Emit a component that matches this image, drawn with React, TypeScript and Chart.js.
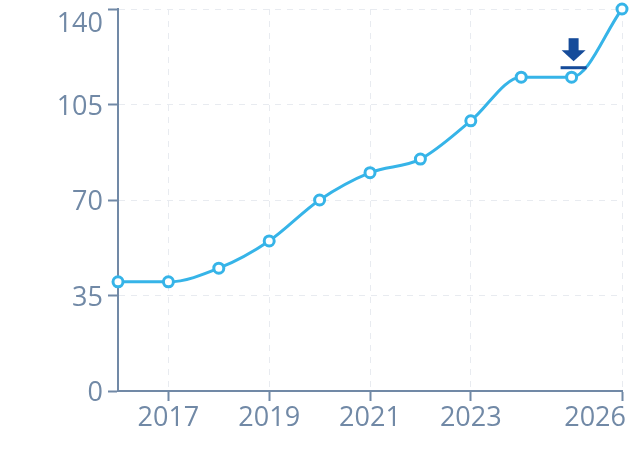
import React, { useEffect, useRef } from 'react';
import { Chart, registerables } from 'chart.js';

Chart.register(...registerables);

const years = [2016, 2017, 2018, 2019, 2020, 2021, 2022, 2023, 2024, 2025, 2026];
const values = [40, 40, 45, 55, 70, 80, 85, 99, 115, 115, 140];
const xTickYears = [2017, 2019, 2021, 2023, 2026];
const yTickValues = [0, 35, 70, 105, 140];
const markerIndex = 9; // download icon over 2025

const axisColor = '#7189a6';
const gridColor = '#e8ebf0';
const lineColor = '#36b4e8';
const iconColor = '#154b9a';
const labelFont = '27px "Open Sans"';

// draws tick labels ourselves so the edge ones can be pulled inside the canvas
const tickLabels = {
  id: 'tickLabels',
  afterDraw(chart: any) {
    const ctx = chart.ctx;
    const xs = chart.scales.x;
    const ys = chart.scales.y;
    ctx.save();
    ctx.font = labelFont;
    ctx.fillStyle = axisColor;
    ctx.textBaseline = 'alphabetic';

    ctx.textAlign = 'right';
    yTickValues.forEach((v) => {
      const py = ys.getPixelForValue(v);
      ctx.fillText(String(v), ys.right - 15, Math.max(py + 10, 32));
    });

    ctx.textAlign = 'center';
    xTickYears.forEach((v) => {
      const label = String(v);
      const w = ctx.measureText(label).width;
      const px = Math.min(xs.getPixelForValue(v), chart.width - 4 - w / 2);
      ctx.fillText(label, px, xs.top + 35);
    });
    ctx.restore();
  },
};

const downloadIcon = {
  id: 'downloadIcon',
  afterDatasetsDraw(chart: any) {
    const pt = chart.getDatasetMeta(0).data[markerIndex];
    if (!pt) return;
    const ctx = chart.ctx;
    const cx = pt.x + 2;
    const cy = pt.y;
    ctx.save();
    ctx.fillStyle = iconColor;
    // bar
    ctx.fillRect(cx - 13, cy - 11, 26, 3);
    // shaft
    ctx.fillRect(cx - 5, cy - 39, 10, 13);
    // head
    ctx.beginPath();
    ctx.moveTo(cx - 12, cy - 27);
    ctx.lineTo(cx + 12, cy - 27);
    ctx.lineTo(cx, cy - 16);
    ctx.closePath();
    ctx.fill();
    ctx.restore();
  },
};

const gridOpts: any = {
  color: gridColor,
  tickColor: axisColor,
  tickLength: 10,
  tickWidth: 2,
  tickBorderDash: [],
};

const App: React.FC = () => {
  const canvasRef = useRef<HTMLCanvasElement | null>(null);
  const chartRef = useRef<Chart | null>(null);

  useEffect(() => {
    if (!canvasRef.current) return;
    const ctx = canvasRef.current.getContext('2d');
    if (!ctx) return;

    chartRef.current = new Chart(ctx, {
      type: 'line',
      data: {
        datasets: [
          {
            data: years.map((y, i) => ({ x: y, y: values[i] })),
            borderColor: lineColor,
            borderWidth: 3,
            backgroundColor: '#ffffff',
            pointBackgroundColor: '#ffffff',
            pointBorderColor: lineColor,
            pointBorderWidth: 3,
            pointRadius: 5,
            cubicInterpolationMode: 'monotone',
            clip: false as any,
          },
        ],
      },
      options: {
        animation: false,
        responsive: true,
        maintainAspectRatio: false,
        layout: { padding: { top: 9, right: 8, left: 0, bottom: 0 } },
        plugins: { legend: { display: false }, tooltip: { enabled: false } },
        scales: {
          x: {
            type: 'linear',
            min: years[0],
            max: years[years.length - 1],
            afterBuildTicks: (scale: any) => {
              scale.ticks = xTickYears.map((v) => ({ value: v }));
            },
            afterFit: (scale: any) => {
              scale.height = 63;
            },
            ticks: { display: false },
            grid: gridOpts,
            border: { display: true, color: axisColor, width: 2, dash: [6, 6] },
          },
          y: {
            min: 0,
            max: 140,
            afterBuildTicks: (scale: any) => {
              scale.ticks = yTickValues.map((v) => ({ value: v }));
            },
            afterFit: (scale: any) => {
              scale.width = 118;
            },
            ticks: { display: false },
            grid: gridOpts,
            border: { display: true, color: axisColor, width: 2, dash: [6, 6] },
          },
        },
      },
      plugins: [tickLabels, downloadIcon],
    });

    return () => {
      if (chartRef.current) {
        chartRef.current.destroy();
        chartRef.current = null;
      }
    };
  }, []);

  return (
    <div style={{ position: 'fixed', left: 0, top: 0, width: 630, height: 454, background: '#ffffff' }}>
      <canvas ref={canvasRef} />
    </div>
  );
};

export default App;
